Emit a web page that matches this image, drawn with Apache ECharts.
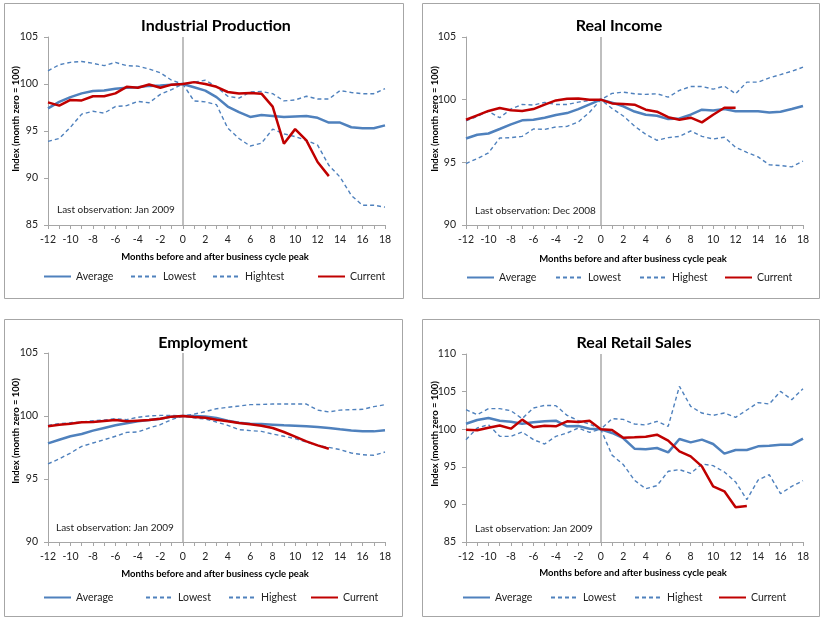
<!DOCTYPE html>
<html>
<head>
<meta charset="utf-8">
<script src="https://cdn.jsdelivr.net/npm/echarts@6/dist/echarts.min.js"></script>
<style>
  html, body { margin: 0; background: #fff; }
  #chart { width: 825px; height: 622px; }
</style>
</head>
<body>
<div id="chart"></div>
<script>
// months before / after the business cycle peak
const months = ['-12', '-11', '-10', '-9', '-8', '-7', '-6', '-5', '-4', '-3', '-2', '-1', '0',
  '1', '2', '3', '4', '5', '6', '7', '8', '9', '10', '11', '12', '13', '14', '15', '16', '17', '18'];

// Industrial Production
const ipAverage = [97.4, 98.1, 98.6, 99.0, 99.25, 99.3, 99.5, 99.6, 99.65, 99.8, 99.85, 99.93, 100,
  99.65, 99.3, 98.6, 97.6, 97.0, 96.5, 96.7, 96.6, 96.5, 96.55, 96.6, 96.4, 95.9, 95.9, 95.4, 95.3, 95.3, 95.6];
const ipLowest = [93.9, 94.2, 95.4, 96.8, 97.1, 96.9, 97.6, 97.7, 98.15, 98.0, 98.9, 99.4, 100,
  98.2, 98.1, 97.8, 95.3, 94.2, 93.4, 93.7, 95.2, 94.7, 94.4, 94.0, 93.5, 91.35, 90.1, 88.15, 87.1, 87.1, 86.9];
const ipHighest = [101.4, 102.05, 102.3, 102.4, 102.2, 101.95, 102.3, 101.95, 101.9, 101.6, 101.2, 100.4, 100,
  100.2, 100.4, 99.7, 98.7, 98.5, 99.15, 99.2, 98.97, 98.2, 98.3, 98.7, 98.4, 98.4, 99.3, 99.1, 98.97, 98.97, 99.5];
const ipCurrent = [98.05, 97.7, 98.3, 98.25, 98.7, 98.7, 99.0, 99.7, 99.6, 99.95, 99.6, 99.93, 100,
  100.2, 100.0, 99.7, 99.15, 99.0, 99.05, 98.97, 97.6, 93.65, 95.2, 94.0, 91.7, 90.2];

// Real Income
const riAverage = [96.9, 97.2, 97.3, 97.66, 98.03, 98.35, 98.4, 98.56, 98.77, 98.93, 99.25, 99.62, 100,
  99.76, 99.47, 99.05, 98.8, 98.72, 98.45, 98.5, 98.8, 99.2, 99.14, 99.25, 99.07, 99.07, 99.07, 98.98, 99.04, 99.25, 99.5];
const riLowest = [94.9, 95.3, 95.75, 96.94, 96.97, 97.07, 97.66, 97.63, 97.82, 97.87, 98.22, 99.0, 100,
  99.3, 98.7, 97.9, 97.23, 96.76, 96.97, 97.07, 97.5, 97.07, 96.86, 97.0, 96.2, 95.8, 95.43, 94.8, 94.74, 94.64, 95.1];
const riHighest = [98.3, 98.67, 99.07, 98.56, 99.25, 99.62, 99.57, 99.78, 99.62, 99.62, 99.8, 99.94, 100,
  100.5, 100.6, 100.47, 100.42, 100.47, 100.2, 100.74, 101.05, 101.05, 100.84, 101.08, 100.47, 101.4, 101.4, 101.74, 102.0, 102.27, 102.59];
const riCurrent = [98.4, 98.75, 99.1, 99.33, 99.15, 99.1, 99.25, 99.6, 99.94, 100.07, 100.1, 99.99, 100,
  99.7, 99.65, 99.6, 99.2, 99.04, 98.6, 98.4, 98.56, 98.19, 98.8, 99.36, 99.36];

// Employment
const emAverage = [97.83, 98.12, 98.39, 98.57, 98.84, 99.05, 99.26, 99.42, 99.58, 99.68, 99.79, 99.95, 100,
  100.0, 99.97, 99.84, 99.63, 99.47, 99.39, 99.36, 99.31, 99.26, 99.23, 99.18, 99.13, 99.05, 98.94, 98.84, 98.78, 98.78, 98.86];
const emLowest = [96.2, 96.6, 97.06, 97.59, 97.86, 98.12, 98.39, 98.7, 98.73, 99.05, 99.31, 99.71, 100,
  99.85, 99.76, 99.52, 99.26, 98.92, 98.84, 98.78, 98.57, 98.39, 98.2, 97.94, 97.67, 97.51, 97.33, 97.06, 96.93, 96.88, 97.14];
const emHighest = [99.26, 99.39, 99.47, 99.52, 99.63, 99.68, 99.79, 99.71, 99.9, 100.0, 100.05, 100.05, 100,
  100.15, 100.35, 100.58, 100.69, 100.79, 100.9, 100.92, 100.95, 100.95, 100.95, 100.95, 100.47, 100.32, 100.47, 100.5, 100.53, 100.74, 100.9];
const emCurrent = [99.18, 99.31, 99.39, 99.5, 99.52, 99.6, 99.68, 99.58, 99.63, 99.68, 99.79, 99.95, 100,
  99.92, 99.86, 99.71, 99.58, 99.44, 99.34, 99.23, 99.05, 98.73, 98.36, 97.99, 97.67, 97.4];

// Real Retail Sales
const rsAverage = [100.73, 101.22, 101.49, 101.13, 101.0, 100.73, 100.91, 101.05, 101.13, 100.38, 100.42, 100.07, 100,
  99.5, 98.8, 97.41, 97.32, 97.5, 96.92, 98.7, 98.25, 98.61, 98.03, 96.75, 97.23, 97.23, 97.72, 97.81, 97.94, 97.94, 98.74];
const rsLowest = [98.61, 100.16, 100.6, 99.05, 99.05, 99.63, 98.61, 98.03, 99.05, 99.49, 100.16, 99.58, 100,
  96.55, 95.3, 93.2, 92.09, 92.49, 94.4, 94.62, 94.13, 95.37, 95.15, 94.31, 92.98, 90.63, 93.24, 93.95, 91.43, 92.4, 93.16];
const rsHighest = [102.6, 101.93, 102.73, 102.73, 102.46, 101.4, 102.82, 103.17, 103.13, 101.84, 101.13, 100.69, 100,
  101.4, 101.3, 100.69, 100.56, 101.05, 100.38, 105.7, 103.04, 102.15, 101.84, 102.15, 101.58, 102.55, 103.53, 103.35, 105.03, 103.93, 105.39];
const rsCurrent = [99.94, 99.85, 100.2, 100.5, 100.07, 101.27, 100.25, 100.47, 100.38, 101.05, 100.96, 101.13, 100,
  99.9, 98.85, 98.92, 99.01, 99.27, 98.47, 97.06, 96.39, 95.06, 92.4, 91.74, 89.61, 89.79];

const titles = ['Industrial Production', 'Real Income', 'Employment', 'Real Retail Sales'];
const notes = ['Last observation: Jan 2009', 'Last observation: Dec 2008', 'Last observation: Jan 2009', 'Last observation: Jan 2009'];
const yMin = [85, 90, 90, 85];
const yMax = [105, 105, 105, 110];
// first panel's legend really says "Hightest"
const seriesNames = [
  ['Average', 'Lowest', 'Hightest', 'Current'],
  ['Average', 'Lowest', 'Highest', 'Current'],
  ['Average', 'Lowest', 'Highest', 'Current'],
  ['Average', 'Lowest', 'Highest', 'Current'],
];
const panelData = [
  [ipAverage, ipLowest, ipHighest, ipCurrent],
  [riAverage, riLowest, riHighest, riCurrent],
  [emAverage, emLowest, emHighest, emCurrent],
  [rsAverage, rsLowest, rsHighest, rsCurrent],
];

// positions
const layout = [
  { grid: [48, 37, 337, 188], frame: [4, 3, 399, 295], title: [216, 26], yName: [16, 119], xName: [215, 257], note: [57, 210], legY: 278, legX: [43, 130, 212, 317] },
  { grid: [466, 37, 337, 188], frame: [422, 3, 397, 295], title: [619, 26], yName: [435, 119], xName: [633, 259], note: [475, 211], legY: 279, legX: [466, 555, 639, 724] },
  { grid: [48, 353, 337, 189], frame: [4, 319, 398, 297], title: [203, 343], yName: [16, 431], xName: [215, 574], note: [56, 528], legY: 599, legX: [43, 145, 228, 310] },
  { grid: [466, 354, 337, 188], frame: [422, 319, 397, 297], title: [634, 343], yName: [435, 434], xName: [633, 573], note: [475, 529], legY: 599, legX: [462, 550, 634, 718] },
];

const FONT = 'Lato, "Liberation Sans", sans-serif';
const BLUE = '#4f81bd';
const RED = '#c00000';
const lineStyles = [
  { color: BLUE, width: 2.5, type: 'solid' },
  { color: BLUE, width: 1.4, type: [4, 3] },
  { color: BLUE, width: 1.4, type: [4, 3] },
  { color: RED, width: 2.5, type: 'solid' },
];

const grid = [], xAxis = [], yAxis = [], series = [], legend = [], graphic = [];

layout.forEach((L, i) => {
  grid.push({ left: L.grid[0], top: L.grid[1], width: L.grid[2], height: L.grid[3], containLabel: false });
  xAxis.push({
    type: 'category',
    gridIndex: i,
    data: months,
    boundaryGap: false,
    axisLine: { lineStyle: { color: '#a6a6a6', width: 1 } },
    axisTick: { interval: 0, length: 4, lineStyle: { color: '#a6a6a6' } },
    axisLabel: { interval: 1, color: '#222', fontSize: 10.5, fontFamily: FONT, margin: 9 },
    splitLine: { show: false },
  });
  yAxis.push({
    type: 'value',
    gridIndex: i,
    min: yMin[i],
    max: yMax[i],
    interval: 5,
    axisLine: { show: true, lineStyle: { color: '#a6a6a6', width: 1 } },
    axisTick: { show: true, length: 4, lineStyle: { color: '#a6a6a6' } },
    axisLabel: { color: '#222', fontSize: 10.5, fontFamily: FONT, margin: 10 },
    splitLine: { show: false },
  });

  panelData[i].forEach((vals, k) => {
    const s = {
      name: seriesNames[i][k],
      type: 'line',
      xAxisIndex: i,
      yAxisIndex: i,
      data: vals,
      symbol: 'none',
      smooth: false,
      z: k === 3 ? 4 : 3,
      lineStyle: lineStyles[k],
      itemStyle: { color: lineStyles[k].color },
      silent: true,
    };
    if (k === 0) {
      s.markLine = {
        silent: true,
        symbol: ['none', 'none'],
        label: { show: false },
        lineStyle: { color: '#bfbfbf', width: 2, type: 'solid' },
        data: [{ xAxis: '0' }],
        z: 1,
      };
    }
    series.push(s);
    legend.push({
      data: [seriesNames[i][k]],
      left: L.legX[k],
      top: L.legY - 7,
      padding: 0,
      itemWidth: 27,
      itemHeight: 10,
      selectedMode: false,
      itemStyle: { opacity: 0 },
      textStyle: { color: '#222', fontSize: 10.5, fontFamily: FONT },
    });
  });

  const f = L.frame;
  graphic.push({
    type: 'rect', shape: { x: f[0] + 0.5, y: f[1] + 0.5, width: f[2], height: f[3] },
    style: { fill: 'none', stroke: '#a6a6a6', lineWidth: 1 }, z: -10, silent: true,
  });
  graphic.push({
    type: 'text', x: L.title[0], y: L.title[1], silent: true,
    style: { text: titles[i], fill: '#000', font: 'bold 16px ' + FONT, align: 'center', verticalAlign: 'middle', textAlign: 'center', textVerticalAlign: 'middle' },
  });
  graphic.push({
    type: 'text', x: L.yName[0], y: L.yName[1], rotation: Math.PI / 2, silent: true,
    style: { text: 'Index (month zero = 100)', fill: '#000', font: 'bold 9.5px ' + FONT, align: 'center', verticalAlign: 'middle', textAlign: 'center', textVerticalAlign: 'middle' },
  });
  graphic.push({
    type: 'text', x: L.xName[0], y: L.xName[1], silent: true,
    style: { text: 'Months before and after business cycle peak', fill: '#000', font: 'bold 9.5px ' + FONT, align: 'center', verticalAlign: 'middle', textAlign: 'center', textVerticalAlign: 'middle' },
  });
  graphic.push({
    type: 'text', x: L.note[0], y: L.note[1], silent: true,
    style: { text: notes[i], fill: '#222', font: '10px ' + FONT, align: 'left', verticalAlign: 'middle', textAlign: 'left', textVerticalAlign: 'middle' },
  });
});

const chart = echarts.init(document.getElementById('chart'));
chart.setOption({
  backgroundColor: '#fff',
  animation: false,
  grid, xAxis, yAxis, series, legend, graphic,
});
</script>
</body>
</html>
